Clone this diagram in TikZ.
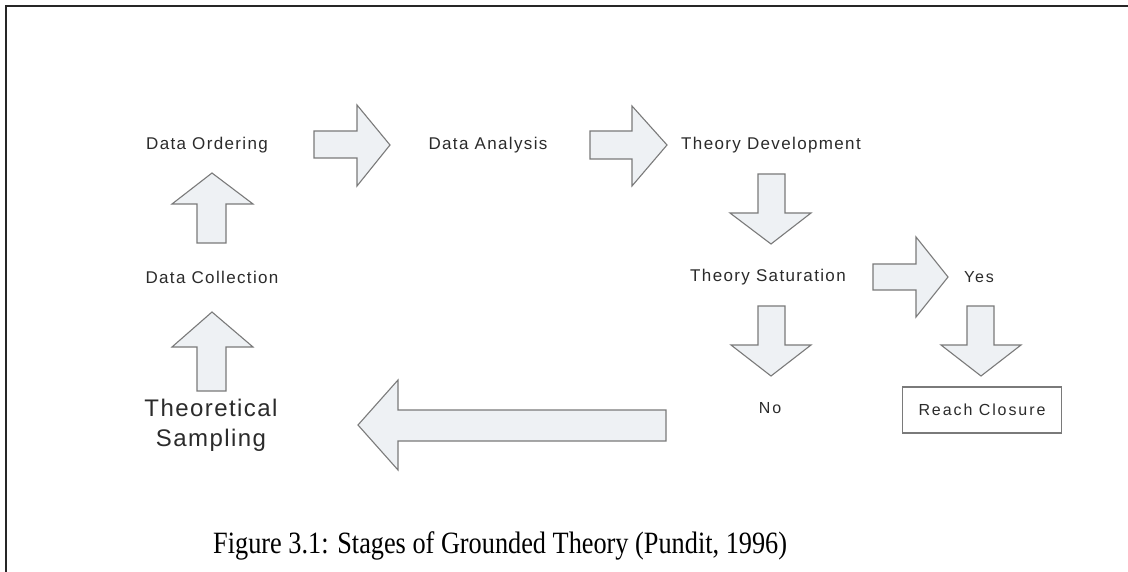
\documentclass[tikz,border=0pt]{standalone}
\usepackage{fontspec}
\setmainfont{Liberation Serif}
\newfontfamily\stagefont[LetterSpace=8]{Liberation Sans}
\newfontfamily\samplefont[LetterSpace=6]{Liberation Sans}
\newfontfamily\closefont[LetterSpace=12]{Liberation Sans}
\definecolor{arrowfill}{HTML}{EEF1F4}
\definecolor{arrowline}{HTML}{7A7A7A}
\definecolor{labeltext}{HTML}{2B2B2B}
\definecolor{framecol}{HTML}{262626}
\begin{document}
\begin{tikzpicture}[x=1pt,y=-1pt,
  blockarrow/.style={draw=arrowline, fill=arrowfill, line width=1.1pt, line join=miter},
  stage/.style={text=labeltext, inner sep=0pt, font=\stagefont\fontsize{17}{20}\selectfont},
  answer/.style={text=labeltext, inner sep=0pt, font=\closefont\fontsize{16}{19}\selectfont},
  sampling/.style={text=labeltext, inner sep=0pt, align=center,
    font=\samplefont\fontsize{24}{30}\selectfont},
  closebox/.style={draw=arrowline, line width=1.1pt, fill=white, text=labeltext,
    minimum width=159pt, minimum height=46pt, inner sep=0pt,
    font=\closefont\fontsize{16}{19}\selectfont},
  caption/.style={inner sep=0pt, anchor=west, font=\fontsize{31}{38}\selectfont}]
\useasboundingbox (0,0) rectangle (1128,572);
\fill[white] (0,0) rectangle (1128,572);
% page frame
\draw[framecol, line width=2pt] (1128,6) -- (6,6) -- (6,572);

% stage labels
\node[stage] (order)    at (207,145) {Data Ordering};
\node[stage] (analysis) at (488,145) {Data Analysis};
\node[stage] (develop)  at (771,145) {Theory Development};
\node[stage] (collect)  at (212,277) {Data Collection};
\node[stage] (satur)    at (768,277) {Theory Saturation};
\node[answer] (yes)     at (979,277) {Yes};
\node[answer] (no)      at (770,408) {No};
\node[closebox] (closure) at (982,410) {Reach Closure};
\node[sampling] (sample) at (211,425) {Theoretical\\Sampling};

% block arrows
\draw[blockarrow] (314,131) -- (357,131) -- (357,105) -- (390,145) -- (357,186) -- (357,158) -- (314,158) -- cycle;
\draw[blockarrow] (590,131) -- (632,131) -- (632,106) -- (667,145) -- (632,186) -- (632,159) -- (590,159) -- cycle;
\draw[blockarrow] (758,174) -- (785,174) -- (785,213) -- (811,213) -- (771,244) -- (730,213) -- (758,213) -- cycle;
\draw[blockarrow] (873,264) -- (916,264) -- (916,237) -- (948,277) -- (916,317) -- (916,290) -- (873,290) -- cycle;
\draw[blockarrow] (758,306) -- (785,306) -- (785,345) -- (811,345) -- (771,376) -- (731,345) -- (758,345) -- cycle;
\draw[blockarrow] (967,306) -- (994,306) -- (994,345) -- (1021,345) -- (981,376) -- (941,345) -- (967,345) -- cycle;
\draw[blockarrow] (197,243) -- (197,204) -- (172,204) -- (212,173) -- (253,204) -- (226,204) -- (226,243) -- cycle;
\draw[blockarrow] (197,391) -- (197,347) -- (172,347) -- (212,312) -- (253,347) -- (226,347) -- (226,391) -- cycle;
\draw[blockarrow] (666,410) -- (398,410) -- (398,380) -- (358,425) -- (398,470) -- (398,441) -- (666,441) -- cycle;

% caption
\node[caption] (cap) at (213,546) {\scalebox{0.848}[1]{Figure 3.1: Stages of Grounded Theory (Pundit, 1996)}};
\end{tikzpicture}
\end{document}
